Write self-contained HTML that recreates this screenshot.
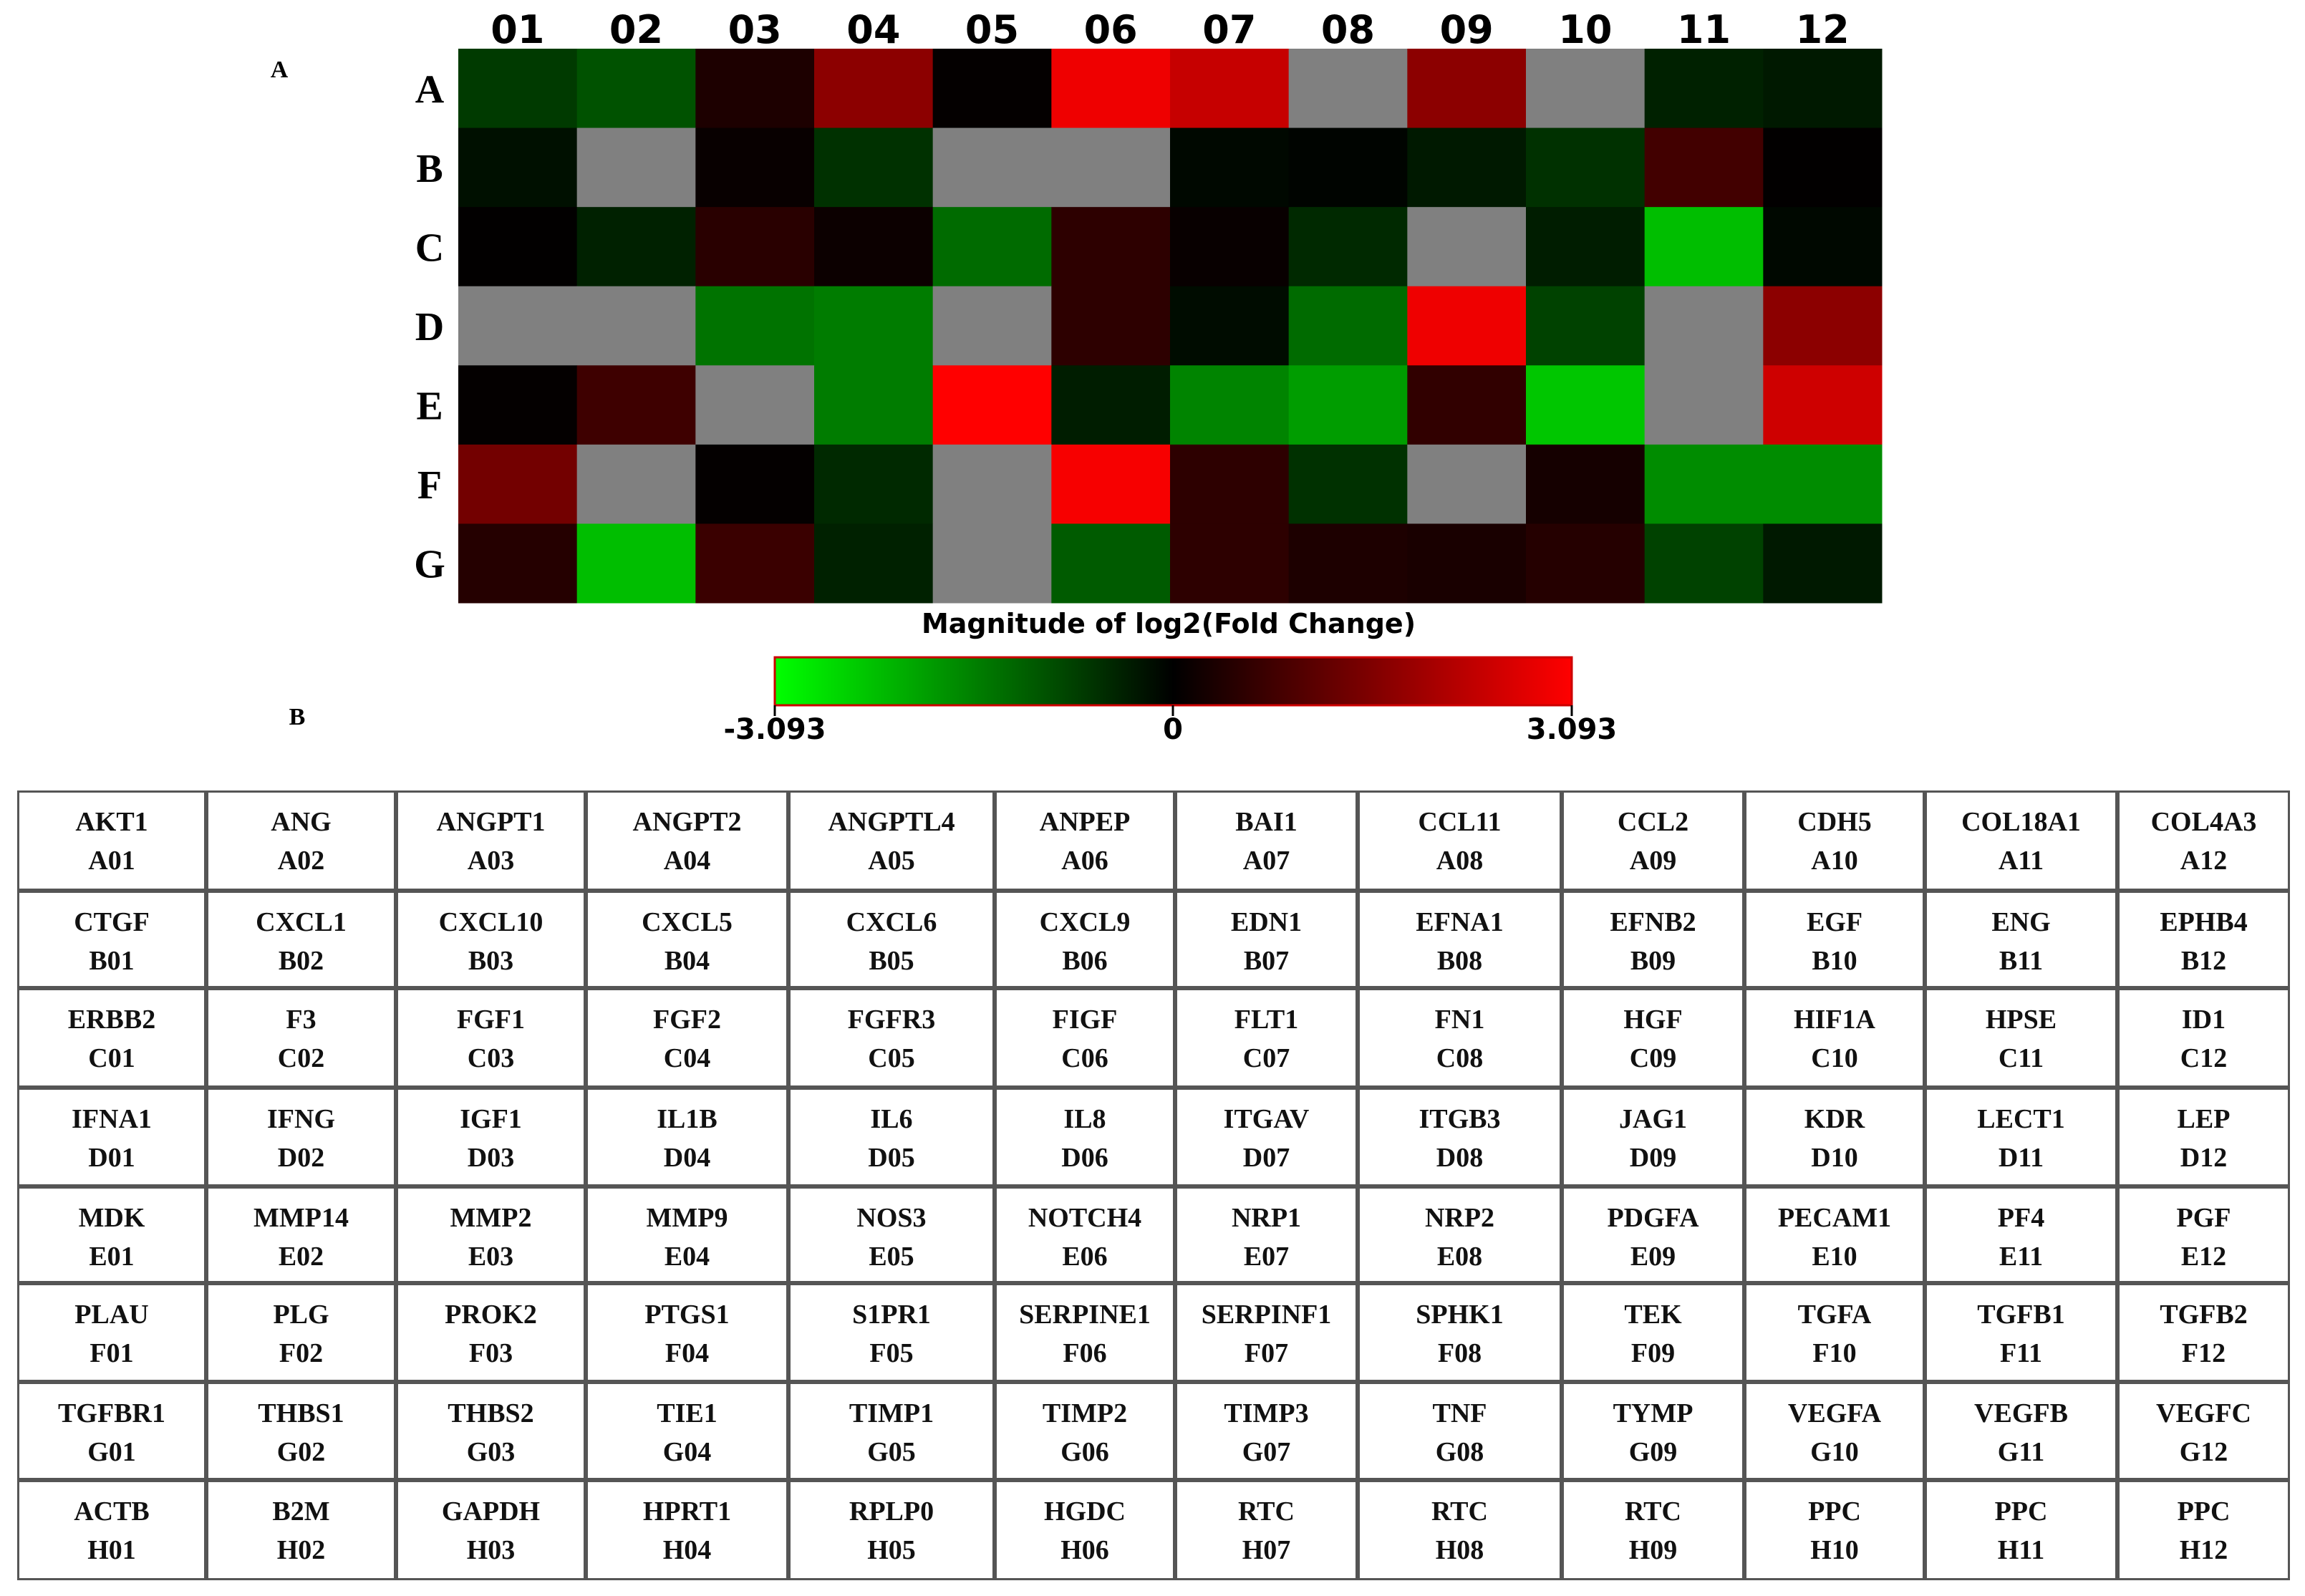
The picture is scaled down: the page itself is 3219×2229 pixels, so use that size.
<!DOCTYPE html>
<html><head><meta charset="utf-8">
<style>
body{margin:0;background:#fff;width:3219px;height:2229px;overflow:hidden;position:relative;font-family:"Liberation Serif",serif}
.abs{position:absolute}
</style></head>
<body>
<svg class="abs" style="left:0;top:0" width="3219" height="1090" id="hm">
<defs><linearGradient id="cg" x1="0" x2="1" y1="0" y2="0">
<stop offset="0" stop-color="#00ff00"/><stop offset="0.5" stop-color="#000"/><stop offset="1" stop-color="#ff0000"/></linearGradient></defs>
<text x="390" y="108" font-size="34" font-weight="bold" text-anchor="middle" font-family="Liberation Serif">A</text>
<text x="415" y="1012" font-size="34" font-weight="bold" text-anchor="middle" font-family="Liberation Serif">B</text>
<text x="1632" y="884" font-size="38" font-weight="bold" text-anchor="middle" font-family="DejaVu Sans">Magnitude of log2(Fold Change)</text>
<rect x="1082" y="918" width="1113" height="67" fill="url(#cg)" stroke="#c00" stroke-width="3"/>
<line x1="1082" y1="985" x2="1082" y2="1000" stroke="#000" stroke-width="3"/>
<line x1="1638" y1="985" x2="1638" y2="1000" stroke="#000" stroke-width="3"/>
<line x1="2195" y1="985" x2="2195" y2="1000" stroke="#000" stroke-width="3"/>
<text x="1082" y="1032" font-size="40" font-weight="bold" text-anchor="middle" font-family="DejaVu Sans">-3.093</text>
<text x="1638" y="1032" font-size="40" font-weight="bold" text-anchor="middle" font-family="DejaVu Sans">0</text>
<text x="2195" y="1032" font-size="40" font-weight="bold" text-anchor="middle" font-family="DejaVu Sans">3.093</text>
</svg>
<div id="tbl"></div>
<script>
const colLabels=["01","02","03","04","05","06","07","08","09","10","11","12"];
const rowLabels=["A","B","C","D","E","F","G"];
const rowA=[-0.7,-1.0,0.35,1.7,0.05,2.9,2.4,null,1.7,null,-0.4,-0.3];
const rowB=[-0.2,null,0.1,-0.6,null,null,-0.1,-0.05,-0.3,-0.6,0.8,0.02];
const rowC=[0.02,-0.4,0.5,0.15,-1.3,0.55,0.1,-0.5,null,-0.35,-2.3,-0.1];
const rowD=[null,null,-1.4,-1.5,null,0.55,-0.15,-1.3,2.9,-0.8,null,1.7];
const rowE=[0.05,0.75,null,-1.5,3.09,-0.35,-1.6,-1.9,0.6,-2.4,null,2.5];
const rowF=[1.4,null,0.05,-0.5,null,3.0,0.55,-0.6,null,0.25,-1.7,-1.7];
const rowG=[0.45,-2.3,0.7,-0.4,null,-1.1,0.55,0.35,0.3,0.45,-0.8,-0.3];
const maxVal=3.093;
const genes=["AKT1","ANG","ANGPT1","ANGPT2","ANGPTL4","ANPEP","BAI1","CCL11","CCL2","CDH5","COL18A1","COL4A3",
"CTGF","CXCL1","CXCL10","CXCL5","CXCL6","CXCL9","EDN1","EFNA1","EFNB2","EGF","ENG","EPHB4",
"ERBB2","F3","FGF1","FGF2","FGFR3","FIGF","FLT1","FN1","HGF","HIF1A","HPSE","ID1",
"IFNA1","IFNG","IGF1","IL1B","IL6","IL8","ITGAV","ITGB3","JAG1","KDR","LECT1","LEP",
"MDK","MMP14","MMP2","MMP9","NOS3","NOTCH4","NRP1","NRP2","PDGFA","PECAM1","PF4","PGF",
"PLAU","PLG","PROK2","PTGS1","S1PR1","SERPINE1","SERPINF1","SPHK1","TEK","TGFA","TGFB1","TGFB2",
"TGFBR1","THBS1","THBS2","TIE1","TIMP1","TIMP2","TIMP3","TNF","TYMP","VEGFA","VEGFB","VEGFC",
"ACTB","B2M","GAPDH","HPRT1","RPLP0","HGDC","RTC","RTC","RTC","PPC","PPC","PPC"];
const rows=[rowA,rowB,rowC,rowD,rowE,rowF,rowG];
const NS="http://www.w3.org/2000/svg";
const svg=document.getElementById('hm');
const x0=640,x1=2628,y0=68,y1=842;
const cw=(x1-x0)/colLabels.length, rh=(y1-y0)/rowLabels.length;
function xPos(i){return x0+i*cw;}
function yPos(j){return y0+j*rh;}
function color(v){
  if(v===null) return "rgb(128,128,128)";
  const t=Math.min(1,Math.abs(v)/maxVal);const c=Math.round(255*t);
  return v<0?`rgb(0,${c},0)`:`rgb(${c},0,0)`;
}
rows.forEach((r,j)=>{r.forEach((v,i)=>{
  const rc=document.createElementNS(NS,'rect');
  rc.setAttribute('x',xPos(i));rc.setAttribute('y',yPos(j));
  rc.setAttribute('width',cw+0.5);rc.setAttribute('height',rh+0.5);
  rc.setAttribute('fill',color(v));
  
  
  svg.appendChild(rc);
});});
colLabels.forEach((l,i)=>{
  const t=document.createElementNS(NS,'text');
  t.setAttribute('x',xPos(i)+cw/2);t.setAttribute('y',60);
  t.setAttribute('font-size','54');t.setAttribute('font-weight','bold');
  t.setAttribute('text-anchor','middle');t.setAttribute('font-family','DejaVu Sans');
  t.textContent=l;
  
  
  svg.appendChild(t);
});
rowLabels.forEach((l,j)=>{
  const t=document.createElementNS(NS,'text');
  t.setAttribute('x',600);t.setAttribute('y',yPos(j)+rh/2+20);
  t.setAttribute('font-size','56');t.setAttribute('font-weight','bold');
  t.setAttribute('text-anchor','middle');t.setAttribute('font-family','Liberation Serif');
  t.textContent=l;
  
  
  svg.appendChild(t);
});
// table
const colX=[25,289,554,819,1102,1390,1642,1897,2182,2437,2689,2958,3199];
const rowY=[1104,1244,1380,1519,1657,1792,1930,2067,2207];
const wells=["A","B","C","D","E","F","G","H"];
const tbl=document.getElementById('tbl');


for(let r=0;r<8;r++)for(let c=0;c<12;c++){
  const d=document.createElement('div');
  d.className='abs';
  d.style.cssText=`left:${colX[c]}px;top:${rowY[r]}px;width:${colX[c+1]-colX[c]}px;height:${rowY[r+1]-rowY[r]}px;border:3px solid #555;box-sizing:border-box;margin-left:-1px;text-align:center;font-weight:bold;font-size:38px;line-height:54px;padding-top:14px;color:#111;font-family:"Liberation Serif",serif`;
  d.innerHTML=genes[r*12+c]+'<br>'+wells[r]+colLabels[c];
  
  
  tbl.appendChild(d);
}
</script>
</body></html>
